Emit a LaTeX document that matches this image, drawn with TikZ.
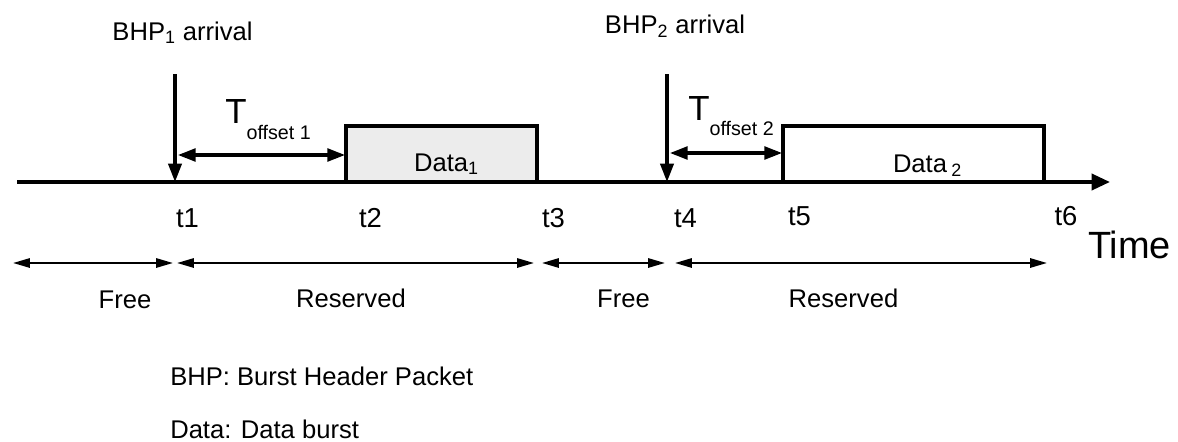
\documentclass[tikz,border=0pt]{standalone}
\usepackage{fontspec}
\setmainfont{Liberation Sans}
\usetikzlibrary{arrows.meta, positioning}
\definecolor{burstgray}{RGB}{236, 236, 236}
\tikzset{
  lbl/.style={inner sep=0pt, anchor=base, font=\fontsize{18.2}{21}\selectfont},
  tlbl/.style={inner sep=0pt, anchor=base, font=\fontsize{19.5}{22}\selectfont},
  offlbl/.style={inner sep=0pt, anchor=base west, font=\fontsize{24.8}{28}\selectfont},
  axisline/.style={line width=2.7pt, -{Triangle[length=0.46cm, width=0.4cm]}},
  arrival/.style={line width=2.4pt, -{Triangle[length=0.46cm, width=0.33cm]}},
  offsetarr/.style={line width=2.2pt, {Triangle[length=0.44cm, width=0.32cm]}-{Triangle[length=0.44cm, width=0.32cm]}},
  spanarr/.style={line width=1.5pt, {Triangle[length=0.42cm, width=0.23cm]}-{Triangle[length=0.42cm, width=0.23cm]}},
  burst/.style={line width=2.7pt, line join=miter}
}

\begin{document}
\begin{tikzpicture}[x=0.025cm, y=-0.025cm]
  \useasboundingbox (0,0) rectangle (1178,441);

  \coordinate (axstart) at (17,182);
  \coordinate (axend) at (1110,182);
  \coordinate (boxtop) at (0,126);
  \coordinate (t1) at (175,182);
  \coordinate (t2) at (346,182);
  \coordinate (t3) at (537,182);
  \coordinate (t4) at (667,182);
  \coordinate (t5) at (783,182);
  \coordinate (t6) at (1044,182);
  \coordinate (arr1) at (175,74);
  \coordinate (arr2) at (667,74);

  \draw[burst, fill=burstgray] (t2) |- (t3 |- boxtop) -- (t3);
  \draw[burst] (t5) |- (t6 |- boxtop) -- (t6);
  \draw[axisline] (axstart) -- (axend);

  \draw[arrival] (arr1) -- (t1);
  \draw[arrival] (arr2) -- (t4);

  \coordinate (off1a) at (178,155);
  \coordinate (off1b) at (345,155);
  \coordinate (off2a) at (670,153);
  \coordinate (off2b) at (782,153);
  \draw[offsetarr] (off1a) -- (off1b);
  \draw[offsetarr] (off2a) -- (off2b);

  \node[lbl] (bhp1) at (182.5,40) {BHP\textsubscript{1} arrival};
  \node[lbl] (bhp2) at (675,33) {BHP\textsubscript{2} arrival};

  \node[offlbl] (toff1) at (225,123) {T\raisebox{-11.4pt}{\fontsize{14}{16}\selectfont offset 1}};
  \node[offlbl] (toff2) at (688,120) {T\raisebox{-10.7pt}{\fontsize{14}{16}\selectfont offset 2}};

  \node[lbl] (data1) at (446.5,171) {Data\textsubscript{1}};
  \node[lbl] (data2) at (927.5,172) {Data\,\textsubscript{2}};

  \node[tlbl] (l1) at (187.5,227) {t1};
  \node[tlbl] (l2) at (370.5,227) {t2};
  \node[tlbl] (l3) at (553.5,227) {t3};
  \node[tlbl] (l4) at (685.5,227) {t4};
  \node[tlbl] (l5) at (799.5,225) {t5};
  \node[tlbl] (l6) at (1066,225) {t6};
  \node[lbl, font=\fontsize{27}{30}\selectfont] (time) at (1129.5,258) {Time};

  \coordinate (s0) at (13,263);
  \coordinate (s1) at (173,263);
  \coordinate (s2) at (177,263);
  \coordinate (s3) at (534,263);
  \coordinate (s4) at (542,263);
  \coordinate (s5) at (665,263);
  \coordinate (s6) at (675,263);
  \coordinate (s7) at (1047,263);
  \draw[spanarr] (s0) -- (s1);
  \draw[spanarr] (s2) -- (s3);
  \draw[spanarr] (s4) -- (s5);
  \draw[spanarr] (s6) -- (s7);

  \node[lbl] (free1) at (125,308) {Free};
  \node[lbl] (res1) at (351,307) {Reserved};
  \node[lbl] (free2) at (623.5,307) {Free};
  \node[lbl] (res2) at (843.5,307) {Reserved};

  \node[lbl, anchor=base west] (keybhp) at (170,385) {BHP: Burst Header Packet};
  \node[lbl, anchor=base west] (keydata) at (170,438) {Data: Data burst};
\end{tikzpicture}
\end{document}
